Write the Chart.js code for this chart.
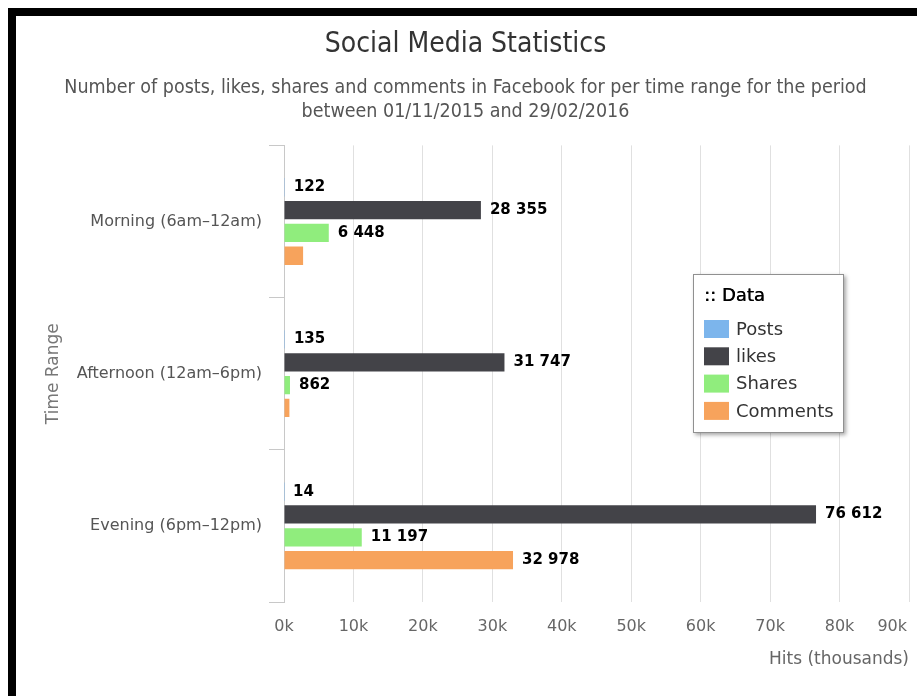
<!DOCTYPE html>
<html lang="en">
<head>
  <meta charset="UTF-8" />
  <title>Social Media Statistics</title>
  <script src="https://cdn.jsdelivr.net/npm/chart.js"></script>
  <style>
    body {
      margin: 0;
      background-color: #fff;
    }
    .frame {
      position: relative;
      width: 917px;
      height: 696px;
      overflow: hidden;
    }
    .frame::before {
      content: '';
      position: absolute;
      left: 8px;
      top: 8px;
      right: 0;
      bottom: 0;
      border-left: 8px solid #000;
      border-top: 8px solid #000;
    }
    canvas {
      position: absolute;
      left: 0;
      top: 0;
    }
  </style>
</head>
<body>
  <div class="frame">
    <canvas id="socialChart" width="917" height="696"></canvas>
  </div>

  <script>
    const timeRanges = ['Morning (6am–12am)', 'Afternoon (12am–6pm)', 'Evening (6pm–12pm)'];
    const posts = [122, 135, 14];
    const likes = [28355, 31747, 76612];
    const shares = [6448, 862, 11197];
    const comments = [2750, 780, 32978];
    // comments only carry a value label in the evening
    const commentLabelled = [false, false, true];
    const hitTicks = [0, 10000, 20000, 30000, 40000, 50000, 60000, 70000, 80000, 90000];

    const AXIS_FONT = '"DejaVu Sans", Verdana, sans-serif';
    const HEAD_FONT = '"DejaVu Sans Condensed", "Open Sans", sans-serif';

    function formatHits(v) {
      return String(v).replace(/\B(?=(\d{3})+(?!\d))/g, ' ');
    }

    function tickText(v) {
      return (v / 1000) + 'k';
    }

    // numbers at the end of each bar
    const valueLabels = {
      id: 'valueLabels',
      afterDatasetsDraw(chart) {
        const ctx = chart.ctx;
        ctx.save();
        ctx.font = 'bold 15px ' + AXIS_FONT;
        ctx.fillStyle = '#000';
        ctx.textAlign = 'left';
        ctx.textBaseline = 'middle';
        chart.data.datasets.forEach((ds, i) => {
          chart.getDatasetMeta(i).data.forEach((bar, j) => {
            if (ds.labelled && !ds.labelled[j]) return;
            ctx.fillText(formatHits(ds.data[j]), bar.x + 9, bar.y);
          });
        });
        ctx.restore();
      }
    };

    // last x tick sits flush against the right edge
    const lastTick = {
      id: 'lastTick',
      afterDraw(chart) {
        const scale = chart.scales.x;
        const last = hitTicks[hitTicks.length - 1];
        const ctx = chart.ctx;
        ctx.save();
        ctx.font = '16px ' + AXIS_FONT;
        ctx.fillStyle = '#666';
        ctx.textAlign = 'right';
        ctx.textBaseline = 'middle';
        ctx.fillText(tickText(last), scale.getPixelForValue(last) - 2, scale.top + 15 + 9.6);
        ctx.restore();
      }
    };

    // floating legend box inside the plot
    const dataLegend = {
      id: 'dataLegend',
      afterDraw(chart) {
        const ctx = chart.ctx;
        const x = 693, y = 274, w = 151, h = 159;
        ctx.save();
        ctx.shadowColor = 'rgba(0, 0, 0, 0.35)';
        ctx.shadowOffsetX = 2;
        ctx.shadowOffsetY = 2;
        ctx.shadowBlur = 4;
        ctx.fillStyle = '#fff';
        ctx.fillRect(x, y, w, h);
        ctx.shadowColor = 'transparent';
        ctx.strokeStyle = '#909090';
        ctx.lineWidth = 1;
        ctx.strokeRect(x + 0.5, y + 0.5, w - 1, h - 1);

        ctx.textBaseline = 'middle';
        ctx.textAlign = 'left';
        ctx.fillStyle = '#000';
        ctx.font = '18px ' + AXIS_FONT;
        ctx.fillText(':: Data', x + 11, y + 22);
        ctx.fillText(':: Data', x + 11.4, y + 22);

        chart.data.datasets.forEach((ds, i) => {
          const cy = y + 55 + i * 27.3;
          ctx.fillStyle = ds.backgroundColor;
          ctx.fillRect(x + 11, cy - 9, 25, 18);
          ctx.fillStyle = '#333';
          ctx.fillText(ds.label, x + 43, cy + 1);
        });
        ctx.restore();
      }
    };

    new Chart(document.getElementById('socialChart'), {
      type: 'bar',
      data: {
        labels: timeRanges,
        datasets: [
          { label: 'Posts', data: posts, backgroundColor: '#7cb5ec' },
          { label: 'likes', data: likes, backgroundColor: '#434348' },
          { label: 'Shares', data: shares, backgroundColor: '#90ed7d' },
          { label: 'Comments', data: comments, backgroundColor: '#f7a35c', labelled: commentLabelled }
        ]
      },
      options: {
        indexAxis: 'y',
        responsive: false,
        animation: false,
        layout: {
          padding: { left: 16, right: 2, top: 0, bottom: 0 }
        },
        datasets: {
          bar: {
            barPercentage: 0.8,
            categoryPercentage: 0.6
          }
        },
        scales: {
          x: {
            min: 0,
            max: 90000,
            afterBuildTicks(scale) {
              scale.ticks = hitTicks.map(v => ({ value: v }));
            },
            afterFit(scale) {
              scale.height = 94;
              scale.paddingRight = 8;
            },
            grid: {
              color: '#e0e0e0',
              drawTicks: false
            },
            border: { display: false },
            ticks: {
              autoSkip: false,
              maxRotation: 0,
              padding: 15,
              color: '#666',
              font: { family: AXIS_FONT, size: 16 },
              callback: v => v === hitTicks[hitTicks.length - 1] ? '' : tickText(v)
            },
            title: {
              display: true,
              text: 'Hits (thousands)',
              align: 'end',
              color: '#666',
              font: { family: AXIS_FONT, size: 17 },
              padding: { top: 0, bottom: 26 }
            }
          },
          y: {
            afterFit(scale) {
              scale.width = 268;
            },
            grid: {
              drawOnChartArea: false,
              tickLength: 15,
              color: '#c8c8c8'
            },
            border: { display: true, color: '#c8c8c8' },
            ticks: {
              padding: 7,
              color: '#555',
              font: { family: AXIS_FONT, size: 16 }
            },
            title: {
              display: true,
              text: 'Time Range',
              color: '#777',
              font: { family: AXIS_FONT, size: 17 },
              padding: { top: 27, bottom: 0 }
            }
          }
        },
        plugins: {
          legend: { display: false },
          tooltip: { enabled: false },
          title: {
            display: true,
            text: 'Social Media Statistics',
            color: '#333',
            font: { family: HEAD_FONT, size: 28, weight: 'normal' },
            padding: { top: 28, bottom: 15 }
          },
          subtitle: {
            display: true,
            text: [
              'Number of posts, likes, shares and comments in Facebook for per time range for the period',
              'between 01/11/2015 and 29/02/2016'
            ],
            color: '#555',
            font: { family: HEAD_FONT, size: 19.5 },
            padding: { top: 0, bottom: 22 }
          }
        }
      },
      plugins: [valueLabels, lastTick, dataLegend]
    });
  </script>
</body>
</html>
